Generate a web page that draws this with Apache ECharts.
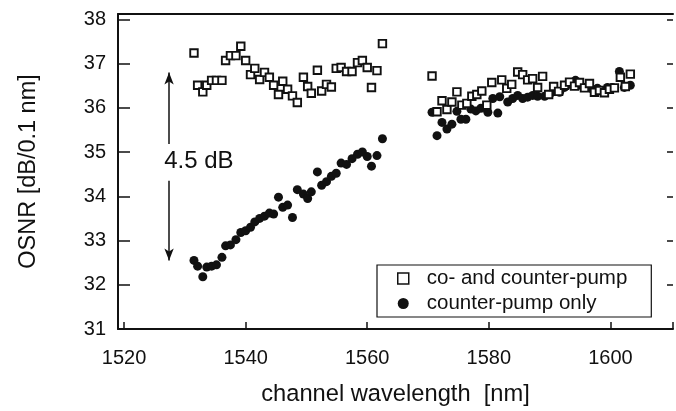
<!DOCTYPE html>
<html>
<head>
<meta charset="utf-8">
<script src="https://cdn.jsdelivr.net/npm/echarts@6/dist/echarts.min.js"></script>
<style>html,body{margin:0;padding:0;background:#fff}#c{width:676px;height:411px}</style>
</head>
<body>
<div id="c"></div>
<script>
// Channel wavelengths [nm] and OSNR [dB/0.1 nm]
const cBandX = [1531.5,1532.1,1532.95,1533.6,1534.4,1535.2,1536.1,1536.7,1537.5,1538.4,1539.2,1540.0,1540.8,1541.5,1542.3,1543.1,1543.9,1544.6,1545.4,1546.1,1546.9,1547.7,1548.5,1549.5,1550.2,1550.8,1551.8,1552.5,1553.3,1554.1,1554.9,1555.7,1556.6,1557.5,1558.4,1559.2,1560.0,1560.7,1561.6,1562.5];
const cBandCoCounter = [37.24,36.51,36.36,36.51,36.62,36.62,36.62,37.07,37.18,37.18,37.39,37.07,36.75,36.89,36.64,36.80,36.69,36.51,36.30,36.60,36.42,36.27,36.12,36.69,36.48,36.33,36.85,36.38,36.53,36.47,36.89,36.91,36.82,36.82,37.02,37.07,36.91,36.46,36.84,37.45];
const cBandCounterOnly = [32.55,32.42,32.18,32.40,32.42,32.45,32.62,32.88,32.90,33.02,33.18,33.22,33.30,33.42,33.50,33.55,33.62,33.60,33.98,33.75,33.80,33.52,34.15,34.05,33.95,34.10,34.55,34.25,34.33,34.45,34.52,34.75,34.72,34.85,34.95,35.00,34.90,34.68,34.92,35.30];

const lBandCoCounterX = [1570.66,1571.48,1572.30,1573.11,1573.93,1574.75,1575.57,1576.39,1577.21,1578.03,1578.85,1579.67,1580.49,1582.13,1582.95,1583.77,1584.75,1585.57,1586.39,1587.21,1588.03,1588.85,1589.84,1590.66,1591.48,1592.46,1593.28,1594.10,1594.92,1595.74,1596.56,1597.38,1598.20,1599.02,1599.84,1600.66,1601.64,1602.46,1603.28];
const lBandCoCounter = [36.72,35.91,36.16,35.96,36.13,36.36,36.06,36.10,36.26,36.30,36.38,36.06,36.57,36.63,36.44,36.53,36.81,36.75,36.63,36.66,36.46,36.71,36.30,36.48,36.37,36.51,36.58,36.49,36.57,36.45,36.55,36.35,36.39,36.34,36.42,36.45,36.69,36.48,36.76];
const lBandCounterOnlyX = [1570.66,1571.48,1572.30,1573.11,1573.93,1574.75,1575.41,1576.23,1577.05,1577.87,1578.69,1579.51,1579.84,1580.66,1581.48,1581.80,1583.11,1583.93,1584.75,1585.57,1586.39,1587.21,1588.03,1589.18,1590.00,1590.82,1591.64,1592.46,1593.28,1594.26,1595.08,1595.90,1597.05,1597.87,1598.69,1599.51,1600.33,1601.48,1602.30,1603.28];
const lBandCounterOnly = [35.90,35.37,35.67,35.52,35.63,35.92,35.74,35.74,35.97,35.93,35.99,36.01,35.90,36.21,35.88,36.25,36.13,36.21,36.28,36.21,36.24,36.28,36.26,36.26,36.30,36.37,36.35,36.46,36.53,36.62,36.51,36.46,36.42,36.44,36.37,36.46,36.46,36.82,36.46,36.51];

const xTickLabels = [1520,1540,1560,1580,1600];
const yTickLabels = [31,32,33,34,35,36,37,38];
const seriesNames = ['co- and counter-pump','counter-pump only'];
const gainLabel = '4.5 dB';
const arrowX = 1527.4, arrowTop = 36.8, arrowBottom = 32.55, arrowGapTop = 35.18, arrowGapBottom = 34.35;
const labelPos = [1532.3, 34.78];

const pairs = (xs, ys) => xs.map((x, i) => [x, ys[i]]);
const coData = pairs(cBandX, cBandCoCounter).concat(pairs(lBandCoCounterX, lBandCoCounter));
const ctrData = pairs(cBandX, cBandCounterOnly).concat(pairs(lBandCounterOnlyX, lBandCounterOnly));

const FONT = "'Liberation Sans', Arial, sans-serif";
const chart = echarts.init(document.getElementById('c'), null, {renderer: 'canvas'});
chart.setOption({
  animation: false,
  backgroundColor: '#fff',
  grid: {left: 118, right: 1, top: 14, bottom: 79},
  legend: {
    orient: 'vertical', left: 377, top: 265,
    borderColor: '#111', borderWidth: 1.2, padding: [3, 24, 3, 20],
    itemWidth: 11, itemHeight: 11, itemGap: 4,
    textStyle: {fontFamily: FONT, fontSize: 20.5, color: '#111', padding: [0, 0, 0, 13]},
    data: [
      {name: seriesNames[0], icon: 'rect', itemStyle: {color: '#fff', borderColor: '#111', borderWidth: 1.5}},
      {name: seriesNames[1], icon: 'circle', itemStyle: {color: '#111'}}
    ]
  },
  xAxis: [{
    type: 'value', min: 1519, max: 1610.3, splitNumber: 5,
    name: 'channel wavelength  [nm]', nameLocation: 'middle', nameGap: 53,
    nameTextStyle: {fontFamily: FONT, fontSize: 23.7, color: '#111'},
    axisLine: {lineStyle: {color: '#111', width: 2}},
    axisTick: {inside: true, length: 7, lineStyle: {color: '#111', width: 1.5}},
    axisLabel: {fontFamily: FONT, fontSize: 20, color: '#111', margin: 19,
      formatter: v => xTickLabels.indexOf(Math.round(v * 1000) / 1000) >= 0 ? String(v) : ''},
    splitLine: {show: false}
  }, {
    type: 'value', position: 'top', min: 1519, max: 1610.3,
    axisLine: {show: true, onZero: false, lineStyle: {color: '#111', width: 2}},
    axisTick: {show: false}, axisLabel: {show: false}, splitLine: {show: false}
  }],
  yAxis: [{
    type: 'value', min: 31, max: 38.12, interval: 1,
    name: 'OSNR [dB/0.1 nm]', nameLocation: 'middle', nameGap: 77,
    nameTextStyle: {fontFamily: FONT, fontSize: 23.5, color: '#111'},
    axisLine: {show: true, lineStyle: {color: '#111', width: 2}},
    axisTick: {inside: true, length: 12, lineStyle: {color: '#111', width: 1.5}},
    axisLabel: {fontFamily: FONT, fontSize: 20, color: '#111', margin: 12,
      formatter: v => yTickLabels.indexOf(Math.round(v)) >= 0 && Math.abs(v - Math.round(v)) < 1e-6 ? String(v) : ''},
    splitLine: {show: false}
  }, {
    type: 'value', position: 'right', min: 31, max: 38.12, interval: 1,
    axisLine: {show: false},
    axisTick: {show: true, inside: true, length: 6, lineStyle: {color: '#111', width: 1.5}},
    axisLabel: {show: false}, splitLine: {show: false}
  }],
  series: [{
    name: seriesNames[0], type: 'scatter', data: coData,
    symbol: 'rect', symbolSize: 7.5,
    itemStyle: {color: '#fff', borderColor: '#111', borderWidth: 1.9, opacity: 1},
    z: 3
  }, {
    name: seriesNames[1], type: 'scatter', data: ctrData,
    symbol: 'circle', symbolSize: 9,
    itemStyle: {color: '#111', opacity: 1},
    z: 2,
    markLine: {
      silent: true, symbol: ['none', 'arrow'], symbolSize: [7, 12],
      lineStyle: {color: '#111', width: 1.5, type: 'solid'},
      label: {show: false},
      data: [
        [{coord: [arrowX, arrowGapTop]}, {coord: [arrowX, arrowTop]}],
        [{coord: [arrowX, arrowGapBottom]}, {coord: [arrowX, arrowBottom]}]
      ]
    },
    markPoint: {
      silent: true, symbol: 'circle', symbolSize: 0,
      label: {show: true, formatter: gainLabel, fontFamily: FONT, fontSize: 24, color: '#111', position: 'inside'},
      data: [{coord: labelPos}]
    }
  }]
});
</script>
</body>
</html>
